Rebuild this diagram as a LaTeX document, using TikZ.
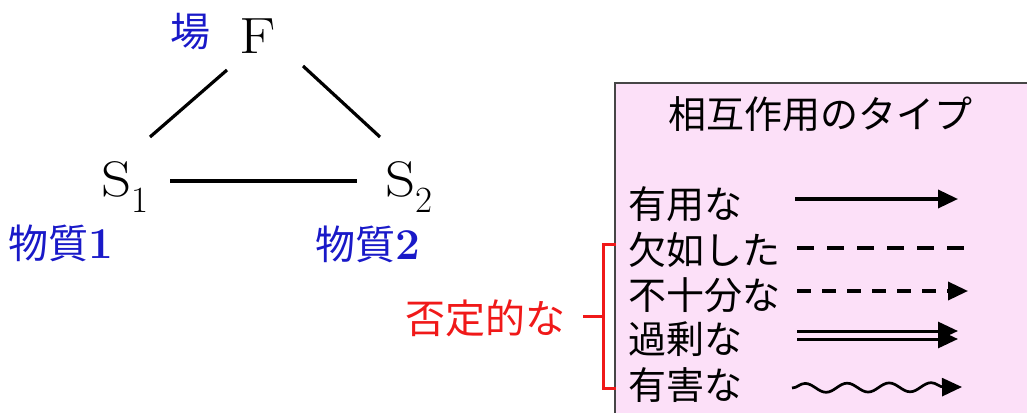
\documentclass[tikz,border=0pt]{standalone}
\usepackage{fontspec}
\newfontfamily\jp{Noto Sans CJK JP}
\usetikzlibrary{arrows.meta,decorations.pathmorphing,calc}
\definecolor{lblue}{RGB}{25,25,200}
\definecolor{lred}{RGB}{240,25,25}
\definecolor{lpink}{RGB}{252,224,248}
\definecolor{lgray}{RGB}{70,70,70}
\newcommand{\subidx}[1]{\raisebox{-16pt}{\fontsize{37}{40}\selectfont #1}}
\newcommand{\wideletter}[1]{\scalebox{1.18}[1]{#1}}
\begin{document}
\begin{tikzpicture}[x=1pt,y=-1pt,
  sym/.style={inner sep=0pt,font=\fontsize{50}{60}\selectfont},
  blab/.style={inner sep=0pt,text=lblue,font=\fontsize{40}{48}\selectfont\jp},
  rlab/.style={inner sep=0pt,text=lred,font=\fontsize{40}{48}\selectfont\jp},
  rowlab/.style={inner sep=0pt,anchor=west,font=\fontsize{38}{46}\selectfont\jp},
  link/.style={line width=3.2pt},
  legline/.style={line width=3.5pt},
  tip/.style={-{Triangle[length=20pt,width=18pt]}}
]
\useasboundingbox (0,0) rectangle (1027,412);
\clip (0,0) rectangle (1027,412);
% triangle
\node[sym,anchor=base,font=\fontsize{51}{60}\selectfont] (F) at (258,53) {\wideletter{F}};
\node[sym,anchor=base west] (S1) at (101,196) {\wideletter{S}\subidx{1}};
\node[sym,anchor=base west] (S2) at (385,196) {\wideletter{S}\subidx{2}};
\draw[link] ($(F.base)+(-31,17)$) -- ($(S1.base west)+(49,-59)$);
\draw[link] ($(F.base)+(45,13)$) -- ($(S2.base west)+(-5,-59)$);
\draw[link] ($(S1.base west)+(69,-15)$) -- ($(S2.base west)+(-28,-15)$);
\node[blab] (ba) at (190,32) {場};
\node[blab,anchor=west] (m1) at (8,243) {物質{\rmfamily\bfseries\fontsize{44}{48}\selectfont 1}};
\node[blab,anchor=west] (m2) at (315,244) {物質{\rmfamily\bfseries\fontsize{44}{48}\selectfont 2}};
% legend box
\draw[lgray,line width=1.5pt,fill=lpink] (615,83) rectangle (1045,430);
\node[inner sep=0pt,font=\fontsize{38}{46}\selectfont\jp] (title) at (820,114) {相互作用のタイプ};
\node[rowlab] (r1) at (628,204) {有用な};
\node[rowlab] (r2) at (628,250) {欠如した};
\node[rowlab] (r3) at (628,295) {不十分な};
\node[rowlab] (r4) at (628,339) {過剰な};
\node[rowlab] (r5) at (628,385) {有害な};
\coordinate (a1s) at (795,199); \coordinate (a1e) at (958,199);
\coordinate (a2s) at (797,248); \coordinate (a2e) at (965,248);
\coordinate (a3s) at (797,291); \coordinate (a3e) at (968,291);
\coordinate (a4s) at (797,331); \coordinate (a4e) at (958,331);
\coordinate (a5s) at (797,339); \coordinate (a5e) at (958,339);
\coordinate (a6s) at (792,388); \coordinate (a6e) at (962,387);
\draw[legline,tip] (a1s) -- (a1e);
\draw[legline,dash pattern=on 17pt off 13pt] (a2s) -- (a2e);
\draw[legline,dash pattern=on 14pt off 11pt,tip] (a3s) -- (a3e);
\draw[line width=3pt,tip] (a4s) -- (a4e);
\draw[line width=3pt,tip] (a5s) -- (a5e);
\draw[line width=2.7pt,tip,decorate,decoration={snake,amplitude=4.5pt,segment length=42pt,post length=17pt}] (a6s) -- (a6e);
% bracket
\draw[lred,line width=3pt] (616,244) -- (603,244) -- (603,388) -- (616,388);
\draw[lred,line width=3pt] (583,316) -- (603,316);
\node[rlab] (neg) at (485,318) {否定的な};
\end{tikzpicture}
\end{document}
